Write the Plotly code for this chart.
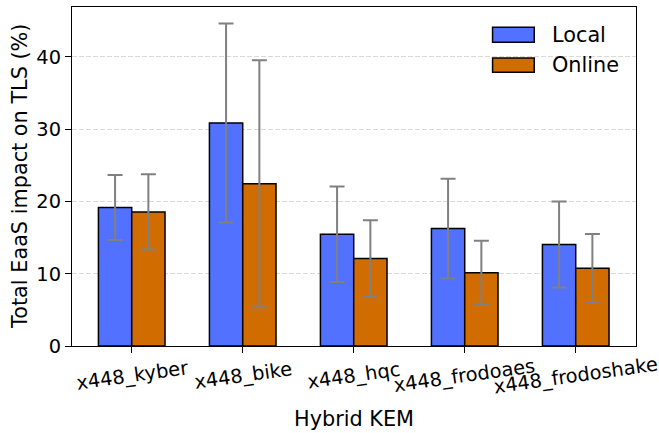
import plotly.graph_objects as go

categories = ["x448_kyber", "x448_bike", "x448_hqc", "x448_frodoaes", "x448_frodoshake"]
series_names = ["Local", "Online"]
local_vals = [19.15, 30.85, 15.45, 16.25, 14.05]
local_err = [4.5, 13.75, 6.6, 6.9, 5.95]
online_vals = [18.55, 22.45, 12.1, 10.15, 10.75]
online_err = [5.2, 17.1, 5.3, 4.4, 4.75]
y_ticks = [0, 10, 20, 30, 40]
x_title = "Hybrid KEM"
y_title = "Total EaaS impact on TLS (%)"

colors = ["#5271FF", "#D06C00"]
FONT = "DejaVu Sans"
LABEL_SIZE = 20.8
TICK_SIZE = 19.4

fig = go.Figure()
for name, vals, errs, col in [(series_names[0], local_vals, local_err, colors[0]),
                              (series_names[1], online_vals, online_err, colors[1])]:
    fig.add_trace(go.Bar(
        x=categories, y=vals, name=name,
        marker=dict(color=col, line=dict(color="black", width=1.5)),
        error_y=dict(type="data", array=errs, visible=True, color="#808080",
                     thickness=2, width=7.5),
        showlegend=False,
    ))

# x tick labels as rotated annotations centred on each category
for c in categories:
    fig.add_annotation(x=c, y=-0.0857, xref="x", yref="paper", text=c, showarrow=False,
                       textangle=-8, xanchor="center", yanchor="middle",
                       font=dict(family=FONT, size=TICK_SIZE, color="black"))

# axis titles
fig.add_annotation(x=0.5, y=-0.214, xref="paper", yref="paper", text=x_title,
                   showarrow=False, xanchor="center", yanchor="middle",
                   font=dict(family=FONT, size=LABEL_SIZE, color="black"))
fig.add_annotation(x=-0.0932, y=0.5, xref="paper", yref="paper", text=y_title,
                   showarrow=False, xanchor="center", yanchor="middle", textangle=-90,
                   font=dict(family=FONT, size=LABEL_SIZE, color="black"))

# custom legend
leg_y = [(0.896, 0.9403), (0.8074, 0.8499)]
for (y0, y1), name, col in zip(leg_y, series_names, colors):
    fig.add_shape(type="rect", xref="paper", yref="paper", x0=0.7457, x1=0.8196,
                  y0=y0, y1=y1, fillcolor=col, line=dict(color="black", width=1.5))
    fig.add_annotation(xref="paper", yref="paper", x=0.8475, y=(y0 + y1) / 2,
                       text=name, showarrow=False, xanchor="left", yanchor="middle",
                       font=dict(family=FONT, size=LABEL_SIZE, color="black"))

fig.update_layout(
    width=659, height=433,
    margin=dict(l=72, r=23, t=7, b=87),
    paper_bgcolor="white", plot_bgcolor="white",
    barmode="group", bargap=0.4, bargroupgap=0,
    font=dict(family=FONT, size=TICK_SIZE, color="black"),
)
fig.update_xaxes(
    range=[-0.538, 4.543], showticklabels=False,
    ticks="outside", ticklen=6, tickwidth=1.2, tickcolor="black",
    showline=True, linecolor="black", linewidth=1.2, mirror=True,
    showgrid=False,
)
fig.update_yaxes(
    range=[0, 46.9], tickvals=y_ticks,
    ticks="outside", ticklen=6, tickwidth=1.2, tickcolor="black",
    showline=True, linecolor="black", linewidth=1.2, mirror=True,
    showgrid=True, gridcolor="#d9d9d9", griddash="5px,2px", gridwidth=0.8,
    zeroline=False,
    tickfont=dict(family=FONT, size=TICK_SIZE),
)

fig.write_html("out.html", config={"displayModeBar": False},
               post_script="document.body.style.margin='0px';")
